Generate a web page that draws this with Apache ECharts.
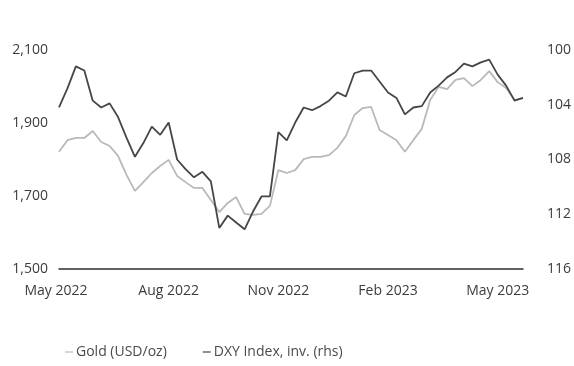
<!DOCTYPE html>
<html>
<head>
<meta charset="utf-8">
<script src="https://cdn.jsdelivr.net/npm/echarts@6/dist/echarts.min.js"></script>
<style>
  html, body { margin: 0; padding: 0; background: #fff; }
  #chart { width: 574px; height: 366px; }
</style>
</head>
<body>
<div id="chart"></div>
<script>
// Weekly observations, first Friday of May 2022 onwards
const startDate = new Date(Date.UTC(2022, 4, 6));
const weekCount = 56;
const weeks = [];
for (let i = 0; i < weekCount; i++) {
  const d = new Date(startDate.getTime() + i * 7 * 86400000);
  weeks.push(d.toISOString().slice(0, 10));
}

// Gold price, USD per ounce
const gold = [
  1821, 1853, 1859, 1859, 1878, 1848, 1837, 1810, 1758, 1714,
  1738, 1763, 1782, 1799, 1755, 1738, 1722, 1722, 1689, 1656,
  1681, 1697, 1651, 1648, 1651, 1673, 1771, 1763, 1771, 1801,
  1807, 1807, 1812, 1832, 1864, 1922, 1941, 1944, 1881, 1867,
  1853, 1821, 1853, 1884, 1963, 1999, 1993, 2018, 2023, 2001,
  2018, 2042, 2012, 1996, 1963, 1968
];

// US dollar index (DXY), plotted on an inverted right-hand scale
const dxy = [
  104.2, 102.8, 101.2, 101.5, 103.7, 104.2, 103.9, 104.9, 106.4, 107.8,
  106.8, 105.6, 106.2, 105.3, 108.0, 108.7, 109.3, 108.9, 109.6, 113.0,
  112.1, 112.6, 113.1, 111.8, 110.7, 110.7, 106.0, 106.6, 105.3, 104.2,
  104.4, 104.1, 103.7, 103.1, 103.4, 101.7, 101.5, 101.5, 102.3, 103.1,
  103.5, 104.7, 104.2, 104.1, 103.1, 102.6, 102.0, 101.6, 101.0, 101.2,
  100.9, 100.7, 101.8, 102.6, 103.7, 103.5
];

// Date axis labels and the week each one sits on
const tickLabels = ['May 2022', 'Aug 2022', 'Nov 2022', 'Feb 2023', 'May 2023'];
const tickIndex = [0, 13, 26, 39, 52];

const seriesNames = ['Gold (USD/oz)', 'DXY Index, inv. (rhs)'];

const FONT = '"Open Sans", "Noto Sans", sans-serif';
const TEXT = '#3c3c3c';

const chart = echarts.init(document.getElementById('chart'), null, { renderer: 'canvas' });

chart.setOption({
  animation: false,
  backgroundColor: '#ffffff',
  textStyle: { fontFamily: FONT },
  grid: { left: 59, right: 51, top: 50, bottom: 97, containLabel: false },
  legend: {
    bottom: 2,
    left: 60,
    itemGap: 36,
    icon: 'rect',
    itemWidth: 8,
    itemHeight: 1.2,
    textStyle: { fontFamily: FONT, fontSize: 14, color: '#4a4a4a', padding: [0, 0, 0, -2] },
    data: seriesNames
  },
  xAxis: {
    type: 'category',
    data: weeks,
    boundaryGap: false,
    axisLine: { show: true, lineStyle: { color: '#2e2e2e', width: 1.5 } },
    axisTick: { show: false },
    splitLine: { show: false },
    axisLabel: {
      interval: (idx) => tickIndex.indexOf(idx) >= 0,
      margin: 15,
      fontFamily: FONT,
      fontSize: 14,
      color: TEXT,
      formatter: (val, idx) => {
        const k = tickIndex.indexOf(idx);
        if (k < 0) return '';
        return k === 0 ? '{first|' + tickLabels[k] + '}' : tickLabels[k];
      },
      rich: {
        first: { fontFamily: FONT, fontSize: 14, color: TEXT, padding: [0, 6, 0, 0] }
      }
    }
  },
  yAxis: [
    {
      type: 'value',
      min: 1500,
      max: 2100,
      interval: 200,
      axisLine: { show: false },
      axisTick: { show: false },
      splitLine: { show: false },
      axisLabel: {
        margin: 11,
        fontFamily: FONT,
        fontSize: 14,
        color: TEXT,
        formatter: (v) => v.toLocaleString('en-US')
      }
    },
    {
      type: 'value',
      min: 100,
      max: 116,
      interval: 4,
      inverse: true,
      position: 'right',
      axisLine: { show: false },
      axisTick: { show: false },
      splitLine: { show: false },
      axisLabel: {
        margin: 24,
        fontFamily: FONT,
        fontSize: 14,
        color: TEXT
      }
    }
  ],
  series: [
    {
      name: seriesNames[0],
      type: 'line',
      yAxisIndex: 0,
      data: gold,
      symbol: 'none',
      lineStyle: { color: '#b9b9b9', width: 1.8 },
      itemStyle: { color: '#b9b9b9' },
      z: 2
    },
    {
      name: seriesNames[1],
      type: 'line',
      yAxisIndex: 1,
      data: dxy,
      symbol: 'none',
      lineStyle: { color: '#464646', width: 1.8 },
      itemStyle: { color: '#464646' },
      z: 3
    }
  ]
});
</script>
</body>
</html>
